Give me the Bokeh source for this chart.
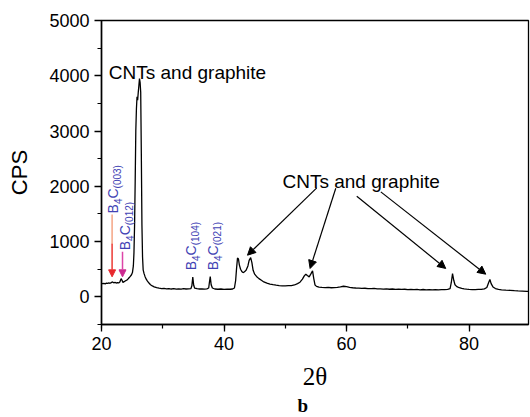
import math
from bokeh.plotting import figure
from bokeh.models import (Range1d, SingleIntervalTicker, Arrow, NormalHead, Title)
from bokeh.core.properties import value
from bokeh.embed import file_html
from bokeh.resources import INLINE

# ---- data ----
two_theta = [20.0, 20.2, 20.4, 20.6, 20.8, 21.0, 21.2, 21.4, 21.6, 21.8, 22.0, 22.2, 22.4, 22.6, 22.8,
             23.0, 23.2, 23.35, 23.5, 23.7, 23.9, 24.1, 24.3, 24.5, 24.7, 24.9, 25.05, 25.2, 25.3, 25.4,
             25.5, 25.6, 25.7, 25.8, 25.9, 26.0, 26.1, 26.2, 26.3, 26.4, 26.5, 26.6, 26.7, 26.8, 26.95,
             27.1, 27.3, 27.5, 27.75, 28.0, 28.3, 28.6, 29.0, 29.4, 29.8, 30.2, 30.6, 31.0, 31.4, 31.8,
             32.2, 32.6, 33.0, 33.4, 33.8, 34.2, 34.6, 34.75, 34.9, 35.05, 35.2, 35.6, 36.0, 36.4, 36.8,
             37.2, 37.5, 37.6, 37.75, 37.9, 38.1, 38.5, 39.0, 39.5, 40.0, 40.5, 41.0, 41.4, 41.7, 41.9,
             42.05, 42.2, 42.35, 42.5, 42.7, 42.9, 43.1, 43.3, 43.6, 43.9, 44.1, 44.35, 44.55, 44.75, 45.0,
             45.3, 45.7, 46.1, 46.5, 47.0, 47.5, 48.0, 48.5, 49.0, 49.5, 50.0, 50.5, 51.0, 51.5, 52.0,
             52.4, 52.8, 53.1, 53.35, 53.6, 53.9, 54.2, 54.45, 54.65, 54.85, 55.1, 55.5, 56.0, 56.5, 57.0,
             57.5, 58.0, 58.5, 59.0, 59.5, 60.0, 60.5, 61.0, 61.5, 62.0, 62.5, 63.0, 63.5, 64.0, 64.5,
             65.0, 65.5, 66.0, 66.5, 67.0, 67.5, 68.0, 68.5, 69.0, 69.5, 70.0, 70.5, 71.0, 71.5, 72.0,
             72.5, 73.0, 73.5, 74.0, 74.5, 75.0, 75.5, 76.0, 76.5, 76.9, 77.1, 77.3, 77.5, 77.7, 78.0,
             78.4, 78.8, 79.2, 79.6, 80.0, 80.5, 81.0, 81.5, 82.0, 82.5, 82.9, 83.2, 83.4, 83.6, 83.9,
             84.3, 84.8, 85.3, 86.0, 86.7, 87.4, 88.0, 88.7, 89.4, 90.0]
cps = [245, 238, 242, 236, 248, 244, 252, 246, 258, 270, 255, 262, 250, 258, 252,
       268, 330, 300, 262, 275, 290, 300, 320, 345, 370, 400, 440, 560, 800, 1300,
       2100, 3000, 3400, 3620, 3560, 3700, 3820, 3950, 3880, 3700, 2600, 1300, 720, 490, 420,
       370, 320, 285, 250, 220, 198, 182, 168, 158, 150, 152, 145, 150, 142, 148,
       140, 146, 140, 148, 142, 145, 150, 200, 360, 210, 160, 148, 142, 146, 140,
       145, 160, 250, 365, 220, 160, 142, 138, 142, 136, 140, 138, 142, 160, 300,
       520, 700, 690, 580, 500, 460, 440, 450, 480, 560, 660, 710, 620, 480, 410,
       370, 330, 300, 270, 248, 232, 220, 212, 205, 200, 198, 202, 205, 215, 240,
       265, 320, 380, 410, 385, 362, 420, 470, 330, 215, 190, 178, 172, 168, 170,
       165, 168, 172, 180, 192, 185, 172, 165, 160, 158, 152, 156, 150, 148, 152,
       146, 144, 140, 144, 138, 142, 136, 140, 134, 138, 132, 136, 130, 134, 128,
       133, 127, 131, 126, 130, 128, 132, 130, 136, 150, 260, 420, 300, 220, 185,
       165, 152, 145, 140, 136, 132, 130, 134, 136, 145, 170, 260, 315, 240, 180,
       150, 135, 128, 122, 118, 112, 108, 104, 100, 98]

x_ticks_interval = 20
y_ticks_interval = 1000

FONT = "Liberation Sans"
BLUE = "#4242b4"

p = figure(width=530, height=417,
           x_range=Range1d(20, 89.7), y_range=Range1d(-500, 5000),
           output_backend="svg", toolbar_location=None,
           min_border_left=101, min_border_right=2, min_border_top=20, min_border_bottom=93)

p.xgrid.visible = False
p.ygrid.visible = False
p.outline_line_color = "black"
p.outline_line_width = 1.3
p.outline_line_alpha = 1.0

p.xaxis.ticker = SingleIntervalTicker(interval=x_ticks_interval, num_minor_ticks=2)
p.yaxis.ticker = SingleIntervalTicker(interval=y_ticks_interval, num_minor_ticks=2)

for ax in (p.xaxis[0], p.yaxis[0]):
    ax.axis_line_color = "black"
    ax.axis_line_width = 1.5
    ax.major_tick_line_color = "black"
    ax.major_tick_line_width = 1.3
    ax.minor_tick_line_color = "black"
    ax.minor_tick_line_width = 1.2
    ax.major_tick_in = 0
    ax.minor_tick_in = 0
    ax.major_tick_out = 7
    ax.minor_tick_out = 4
    ax.major_label_text_font = FONT
    ax.major_label_text_font_size = "18px"
    ax.major_label_text_color = "black"
    ax.major_label_standoff = 5
    ax.axis_label_text_font_style = "normal"
    ax.axis_label_text_color = "black"

p.xaxis.axis_label = "2θ"
p.xaxis.axis_label_text_font = "Liberation Serif"
p.xaxis.axis_label_text_font_size = "25px"
p.xaxis.axis_label_standoff = 10

p.yaxis.axis_label = "CPS"
p.yaxis.axis_label_text_font = FONT
p.yaxis.axis_label_text_font_size = "22px"
p.yaxis.axis_label_standoff = 14

p.line(two_theta, cps, line_color="black", line_width=1.3)

# CNTs labels
p.text(x=[21.19], y=[4063], text=["CNTs and graphite"], text_font=value(FONT),
       text_font_size="19px", text_color="black", text_align="left", text_baseline="middle")
p.text(x=[49.54], y=[2080], text=["CNTs and graphite"], text_font=value(FONT),
       text_font_size="19px", text_color="black", text_align="left", text_baseline="middle")

cnt_arrows = [((55.14, 1971), (43.83, 754)),
              ((58.24, 1966), (54.05, 514)),
              ((61.67, 1821), (76.19, 514)),
              ((65.59, 1899), (82.72, 410))]
for (xs, ys), (xe, ye) in cnt_arrows:
    p.add_layout(Arrow(end=NormalHead(size=8, fill_color="black", line_color="black"),
                       x_start=xs, y_start=ys, x_end=xe, y_end=ye,
                       line_color="black", line_width=1.2))

# B4C labels (rotated, with subscripts)
def b4c(xd, yd, sub):
    pieces = [("B", 14, 0, 0.0), ("4", 10, 5, -9.3), ("C", 14, 0, -14.9), (sub, 10, 5, -25.0)]
    for t, fs, xo, yo in pieces:
        p.text(x=[xd], y=[yd], text=[t], angle=math.pi / 2,
               text_font=value(FONT), text_font_size=f"{fs}px", text_color=BLUE,
               text_align="left", text_baseline="alphabetic", x_offset=xo, y_offset=yo)

b4c(21.84, 1510, "(003)")
b4c(23.80, 844, "(012)")
b4c(34.57, 481, "(104)")
b4c(38.20, 481, "(021)")

# coloured arrows below the first two B4C labels
p.segment(x0=[21.73], y0=[1490], x1=[21.73], y1=[950], line_color="#f5a585", line_width=1.5)
p.add_layout(Arrow(end=NormalHead(size=7, fill_color="#e8282e", line_color="#e8282e"),
                   x_start=21.73, y_start=960, x_end=21.73, y_end=362,
                   line_color="#ec3a34", line_width=1.5))
p.add_layout(Arrow(end=NormalHead(size=7, fill_color="#cc2a90", line_color="#cc2a90"),
                   x_start=23.43, y_start=814, x_end=23.43, y_end=362,
                   line_color="#dd45a8", line_width=1.5))

p.add_layout(Title(text="b", align="left", offset=196, standoff=0,
                   text_font="Liberation Serif", text_font_style="bold",
                   text_font_size="19px", text_color="black"), "below")

open("out.html", "w").write(file_html(p, INLINE))
